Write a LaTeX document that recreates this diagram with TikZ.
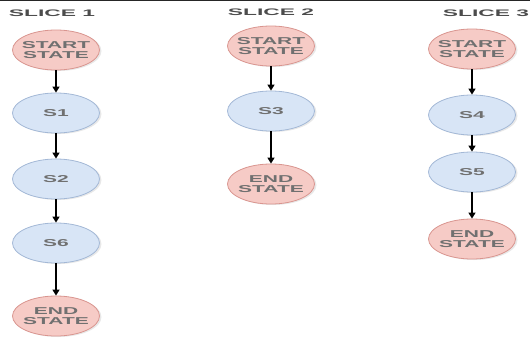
\documentclass[tikz,border=0pt]{standalone}
\usepackage{fontspec}
\setmainfont{Liberation Sans}[FakeStretch=2.1]
\newfontfamily\titlefont{Liberation Sans}[FakeStretch=2.4]
\usetikzlibrary{shapes.geometric,arrows.meta,shadows}
\definecolor{pinkfill}{HTML}{F6CBC6}
\definecolor{pinkline}{HTML}{D9958F}
\definecolor{bluefill}{HTML}{D8E5F6}
\definecolor{blueline}{HTML}{A3B8D6}
\definecolor{txt}{HTML}{707070}
\tikzset{
  state/.style={ellipse, minimum width=87pt, minimum height=40pt, inner xsep=-9pt, inner ysep=-2pt,
    align=center, font=\bfseries\fontsize{10}{9.5}\selectfont, text=txt, line width=0.8pt,
    drop shadow={opacity=0.18, shadow xshift=2pt, shadow yshift=-1pt}},
  termstate/.style={state, fill=pinkfill, draw=pinkline},
  midstate/.style={state, fill=bluefill, draw=blueline},
  title/.style={font=\titlefont\bfseries\fontsize{9.5}{9.5}\selectfont, text=black!70},
  link/.style={-{Triangle[length=6pt,width=7pt]}, line width=1.4pt, black}
}
\begin{document}
\begin{tikzpicture}[x=1pt,y=-1pt]
\useasboundingbox (0,0) rectangle (530,341);
\draw[line width=1.2pt, black!85] (0,0.6) -- (530,0.6);
% titles
\node[title] (t1) at (52,13) {SLICE 1};
\node[title] (t2) at (271,12) {SLICE 2};
\node[title] (t3) at (486,13) {SLICE 3};
% slice 1
\node[termstate] (a0) at (56,50) {START\\STATE};
\node[midstate] (a1) at (56,113) {S1};
\node[midstate] (a2) at (56,179) {S2};
\node[midstate] (a3) at (56,243) {S6};
\node[termstate] (a4) at (56,316) {END\\STATE};
\draw[link] (a0) -- (a1);
\draw[link] (a1) -- (a2);
\draw[link] (a2) -- (a3);
\draw[link] (a3) -- (a4);
% slice 2
\node[termstate] (b0) at (271,46) {START\\STATE};
\node[midstate] (b1) at (271,111) {S3};
\node[termstate] (b2) at (271,184) {END\\STATE};
\draw[link] (b0) -- (b1);
\draw[link] (b1) -- (b2);
% slice 3
\node[termstate] (c0) at (472,49) {START\\STATE};
\node[midstate] (c1) at (472,115) {S4};
\node[midstate] (c2) at (472,172) {S5};
\node[termstate] (c3) at (472,239) {END\\STATE};
\draw[link] (c0) -- (c1);
\draw[link] (c1) -- (c2);
\draw[link] (c2) -- (c3);
\end{tikzpicture}
\end{document}
